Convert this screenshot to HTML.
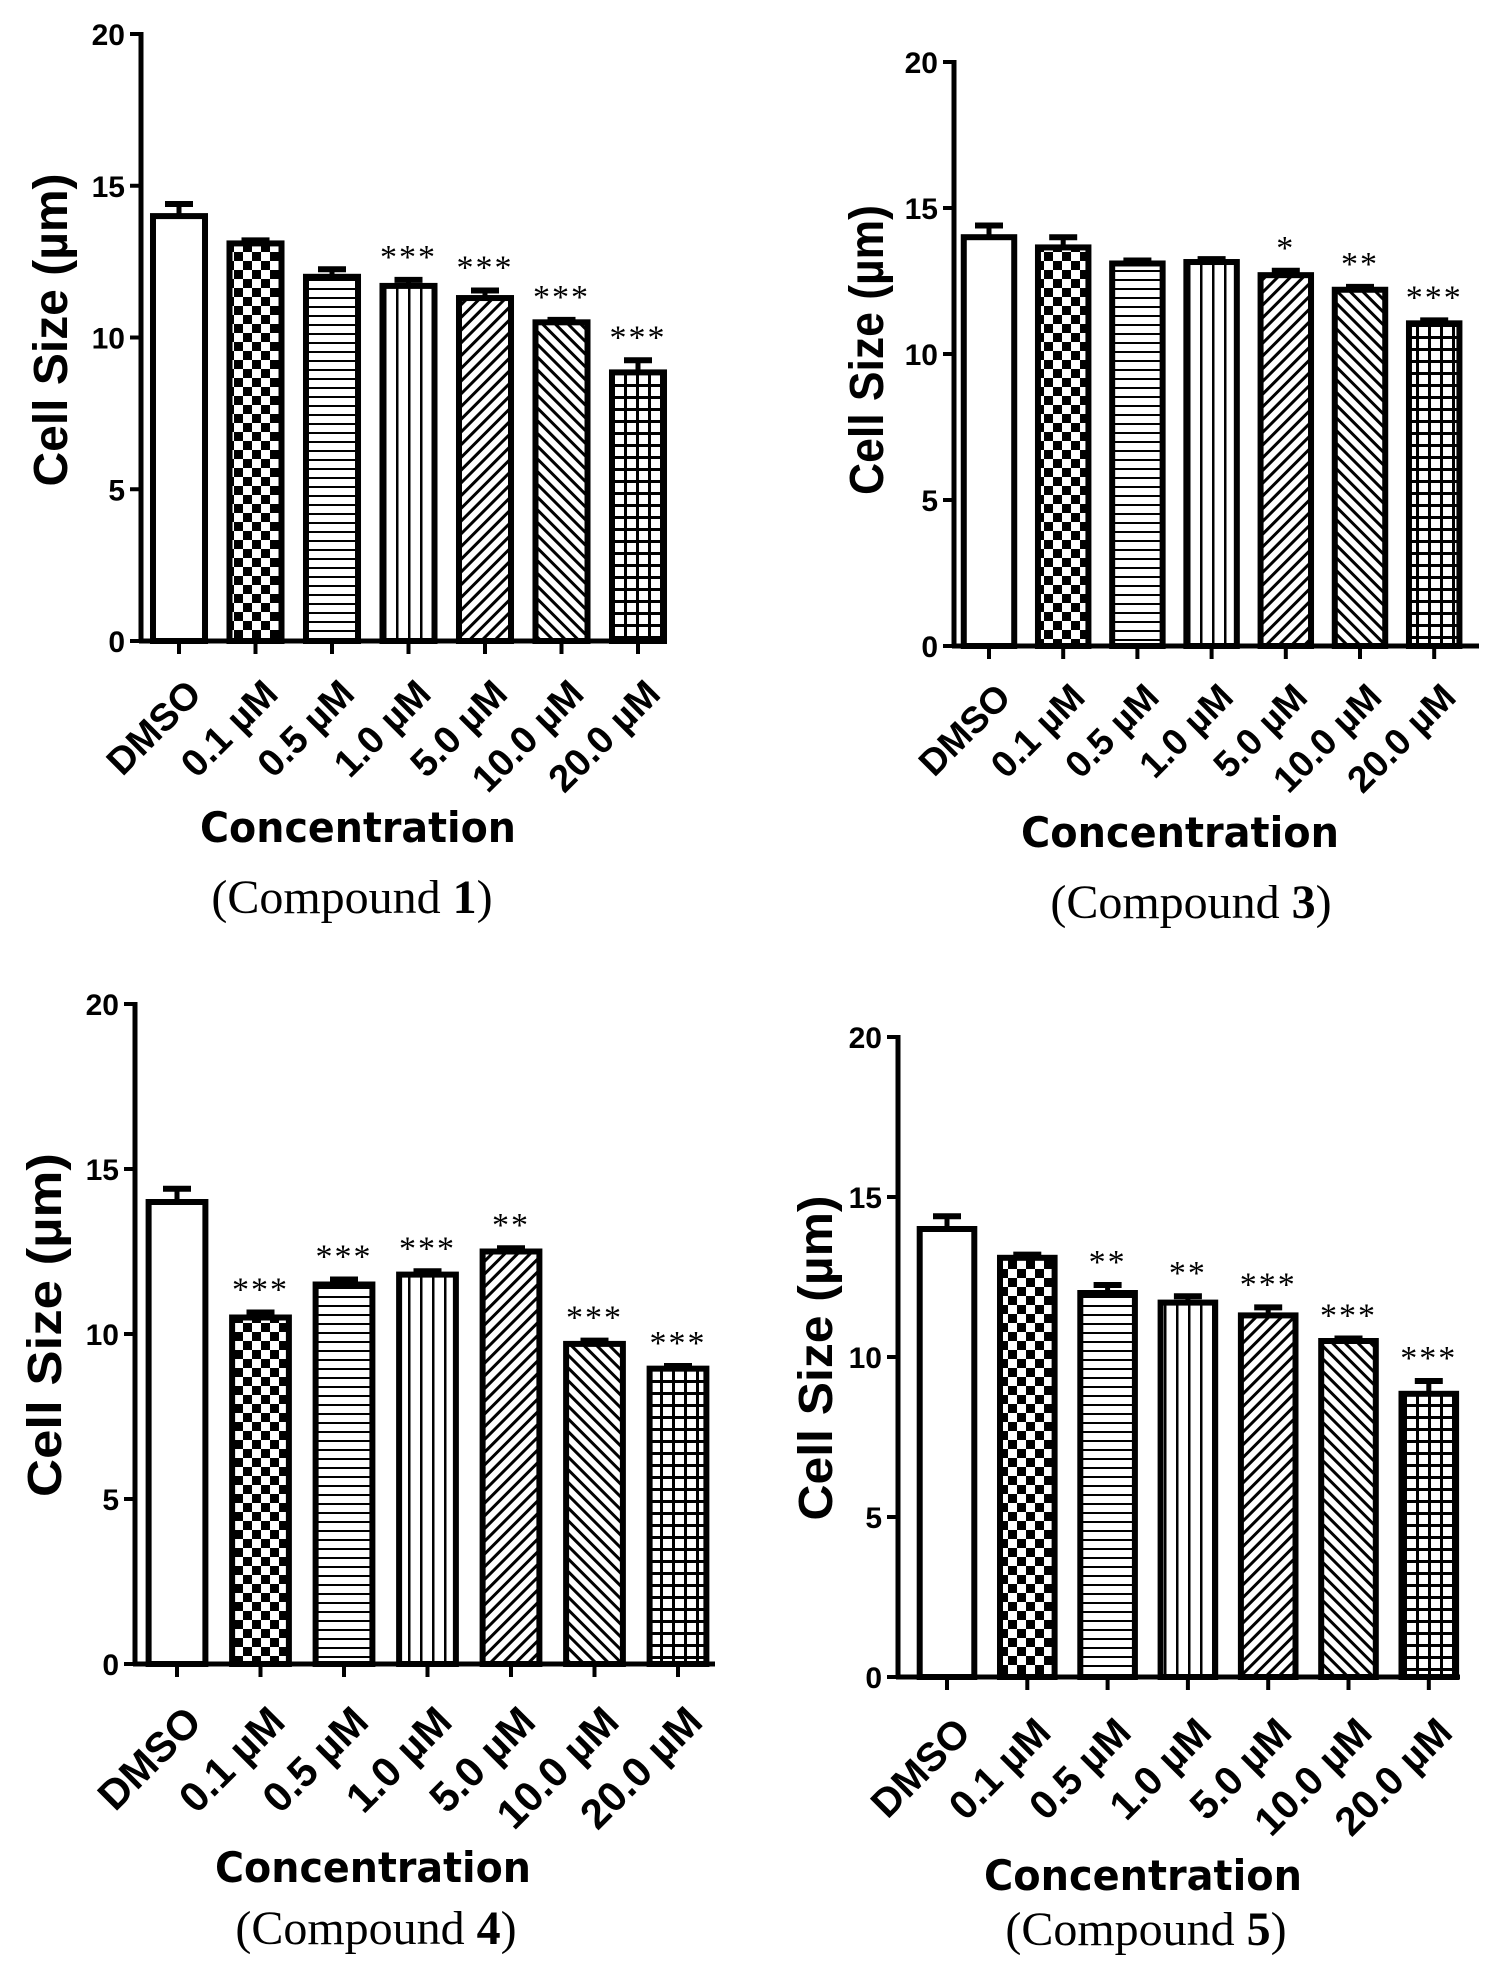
<!DOCTYPE html>
<html><head><meta charset="utf-8">
<style>
html,body{margin:0;padding:0;background:#fff;}
svg{display:block;}
.tick{font-family:"Liberation Sans",Arial,sans-serif;font-weight:bold;font-size:30px;}
.xl{font-family:"Liberation Sans",Arial,sans-serif;font-weight:bold;}
.yt{font-family:"Liberation Sans Narrow","Liberation Sans",Arial,sans-serif;font-weight:bold;font-size:48px;}
.xt{font-family:"DejaVu Sans","Liberation Sans",sans-serif;font-weight:bold;font-size:42px;}
.cp{font-family:"Liberation Serif","Times New Roman",serif;font-size:48px;}
.st{font-family:"Liberation Serif",serif;font-size:34px;letter-spacing:2px;}
</style></head>
<body>
<svg id="fig" width="1488" height="1969" viewBox="0 0 1488 1969" xmlns="http://www.w3.org/2000/svg">
<defs>
<pattern id="p-check" width="18" height="18" patternUnits="userSpaceOnUse"><rect width="18" height="18" fill="#fff"/><rect width="9" height="9" fill="#000"/><rect x="9" y="9" width="9" height="9" fill="#000"/></pattern>
<pattern id="p-hor" width="9" height="9" patternUnits="userSpaceOnUse"><rect width="9" height="9" fill="#fff"/><rect y="0" width="9" height="2" fill="#000"/></pattern>
<pattern id="p-ver" width="12" height="12" patternUnits="userSpaceOnUse"><rect width="12" height="12" fill="#fff"/><rect x="0" width="2.5" height="12" fill="#000"/></pattern>
<pattern id="p-d1" width="9" height="9" patternUnits="userSpaceOnUse" patternTransform="rotate(45)"><rect width="9" height="9" fill="#fff"/><rect width="3" height="9" fill="#000"/></pattern>
<pattern id="p-d2" width="9" height="9" patternUnits="userSpaceOnUse" patternTransform="rotate(-45)"><rect width="9" height="9" fill="#fff"/><rect width="3" height="9" fill="#000"/></pattern>
<pattern id="p-grid" width="12" height="12" patternUnits="userSpaceOnUse"><rect width="12" height="12" fill="#fff"/><rect width="3" height="12" fill="#000"/><rect width="12" height="3" fill="#000"/></pattern>
</defs>
<g id="root"></g>
</svg>
<script>
const categories = ["DMSO","0.1 µM","0.5 µM","1.0 µM","5.0 µM","10.0 µM","20.0 µM"];
const yTicks = [0,5,10,15,20];
const values1 = [14.0,13.1,12.0,11.7,11.3,10.5,8.85];
const errors1 = [0.4,0.1,0.25,0.2,0.25,0.08,0.4];
const stars1 = ["","","","***","***","***","***"];
const values3 = [14.0,13.65,13.1,13.15,12.7,12.2,11.05];
const errors3 = [0.4,0.35,0.1,0.1,0.15,0.1,0.1];
const stars3 = ["","","","","*","**","***"];
const values4 = [14.0,10.5,11.5,11.8,12.5,9.7,8.95];
const errors4 = [0.4,0.15,0.15,0.1,0.1,0.1,0.08];
const stars4 = ["","***","***","***","**","***","***"];
const values5 = [14.0,13.1,12.0,11.7,11.3,10.5,8.85];
const errors5 = [0.4,0.1,0.25,0.2,0.25,0.08,0.4];
const stars5 = ["","","**","**","***","***","***"];

const fills = ["#fff","url(#p-check)","url(#p-hor)","url(#p-ver)","url(#p-d1)","url(#p-d2)","url(#p-grid)"];
const NS = "http://www.w3.org/2000/svg";
const root = document.getElementById("root");
function mk(tag, attrs, parent){const e=document.createElementNS(NS,tag);for(const k in attrs)e.setAttribute(k,attrs[k]);(parent||root).appendChild(e);return e;}

const panels = [
 {id:"compound-1",num:"1",vals:values1,errs:errors1,stars:stars1,ax:141,y0:641,y20:34,x0c:179,dx:76.5,xend:662,ytx:50,yty:330,ytl:313,xtx:358,xty:842,xtl:316,cpx:352,cpy:913},
 {id:"compound-3",num:"3",vals:values3,errs:errors3,stars:stars3,ax:954,y0:646,y20:62,x0c:989,dx:74.2,xend:1479,ytx:866,yty:350,ytl:290,xtx:1180,xty:847,xtl:318,cpx:1191,cpy:918},
 {id:"compound-4",num:"4",vals:values4,errs:errors4,stars:stars4,ax:135,y0:1664,y20:1004,x0c:177,dx:83.5,xend:715,ytx:44,yty:1325,ytl:344,xtx:373,xty:1882,xtl:316,cpx:376,cpy:1944},
 {id:"compound-5",num:"5",vals:values5,errs:errors5,stars:stars5,ax:898,y0:1677,y20:1037,x0c:947,dx:80.3,xend:1460,ytx:815,yty:1358,ytl:325,xtx:1143,xty:1890,xtl:318,cpx:1146,cpy:1945}
];

panels.forEach(p=>{
  const g = mk("g",{});
  
  
  const yS = v => p.y0 - (p.y0-p.y20)*v/20;
  const xS = i => p.x0c + i*p.dx;
  const bw = p.dx*0.68;
  p.vals.forEach((v,i)=>{
    const cx=xS(i), top=yS(v), e=p.errs[i];
    const eb = mk("line",{x1:cx,x2:cx,y1:top,y2:yS(v+e),stroke:"#000","stroke-width":5},g);
    
    
    const cap = mk("line",{x1:cx-14,x2:cx+14,y1:yS(v+e),y2:yS(v+e),stroke:"#000","stroke-width":6},g);
    
    
    const r = mk("rect",{x:cx-bw/2,y:top,width:bw,height:p.y0-top,fill:fills[i],stroke:"#000","stroke-width":6},g);
    
    
    if(p.stars[i]){
      const s = mk("text",{x:cx,y:yS(v+e)-12,"text-anchor":"middle","class":"st"},g);
      s.textContent=p.stars[i];
      
      
    }
    const t = mk("line",{x1:cx,x2:cx,y1:p.y0,y2:p.y0+13,stroke:"#000","stroke-width":4},g);
    
    
    const fs = p.dx*0.5;
    const lx = cx+p.dx*0.32, ly = p.y0+p.dx*0.72;
    const l = mk("text",{x:lx,y:ly,"text-anchor":"end","class":"xl","font-size":fs,transform:`rotate(-45 ${lx} ${ly})`},g);
    l.textContent = categories[i];
    
    
  });
  const ya = mk("line",{x1:p.ax,x2:p.ax,y1:p.y20-2,y2:p.y0+2,stroke:"#000","stroke-width":5},g);
  
  
  const xa = mk("line",{x1:p.ax-2,x2:p.xend,y1:p.y0,y2:p.y0,stroke:"#000","stroke-width":5},g);
  
  
  yTicks.forEach(v=>{
    const y=yS(v);
    const t = mk("line",{x1:p.ax-11,x2:p.ax,y1:y,y2:y,stroke:"#000","stroke-width":4},g);
    
    
    const l = mk("text",{x:p.ax-16,y:y+11,"text-anchor":"end","class":"tick"},g);
    l.textContent=String(v);
    
    
  });
  const yt = mk("text",{x:p.ytx,y:p.yty,"text-anchor":"middle","class":"yt",textLength:p.ytl,lengthAdjust:"spacingAndGlyphs",transform:`rotate(-90 ${p.ytx} ${p.yty}) translate(0 17)`},g);
  yt.textContent="Cell Size (µm)";
  
  
  const xt = mk("text",{x:p.xtx,y:p.xty,"text-anchor":"middle","class":"xt",textLength:p.xtl,lengthAdjust:"spacingAndGlyphs"},g);
  xt.textContent="Concentration";
  
  
  const cp = mk("text",{x:p.cpx,y:p.cpy,"text-anchor":"middle","class":"cp"},g);
  
  
  cp.appendChild(document.createTextNode("(Compound "));
  const b = mk("tspan",{"font-weight":"bold"},cp);
  b.textContent=p.num;
  cp.appendChild(document.createTextNode(")"));
});
</script>
</body></html>
